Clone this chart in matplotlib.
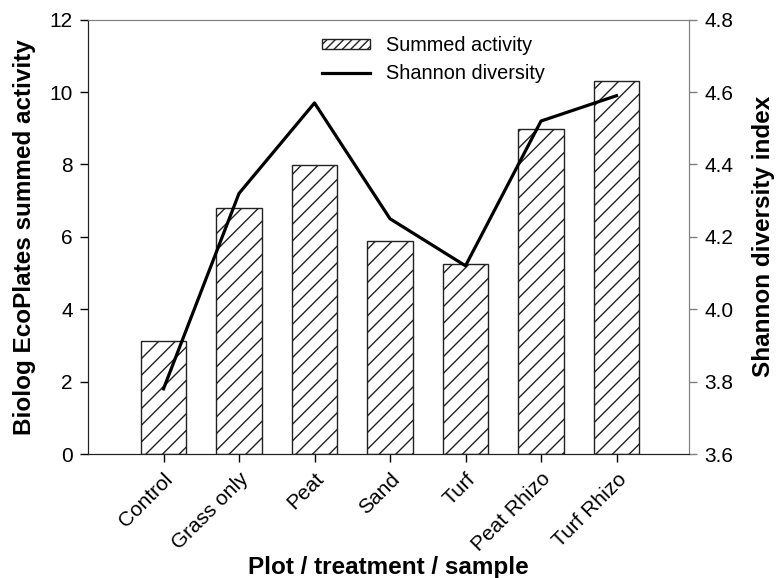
import matplotlib.pyplot as plt
from matplotlib.patches import Patch
from matplotlib.lines import Line2D

plt.rcParams['font.family'] = ['Liberation Sans', 'DejaVu Sans']
plt.rcParams['hatch.linewidth'] = 1.0

samples = ["Control", "Grass only", "Peat", "Sand", "Turf", "Peat Rhizo", "Turf Rhizo"]
summed_activity = [3.13, 6.80, 7.98, 5.89, 5.26, 8.99, 10.32]
shannon = [3.78, 4.32, 4.57, 4.25, 4.12, 4.52, 4.59]

fig = plt.figure(figsize=(7.77, 5.78), dpi=100)
ax = fig.add_axes([88/777, 1 - 454/578, 601/777, 434.3/578])

x = list(range(len(samples)))
ax.bar(x, summed_activity, width=0.6, color='white', edgecolor='#222222',
       linewidth=1.0, hatch='//')
ax.set_xlim(-1, 6.96)
ax.set_ylim(0, 12)
ax.set_yticks([0, 2, 4, 6, 8, 10, 12])
ax.set_xticks(x)
ax.set_xticklabels(samples, rotation=45, ha='right', rotation_mode='anchor')
ax.tick_params(direction='out', length=6, labelsize=15, width=1, pad=5)
ax.set_ylabel('Biolog EcoPlates summed activity', fontsize=17.5, fontweight='bold')
ax.set_xlabel('Plot / treatment / sample', fontsize=17.5, fontweight='bold')
ax.yaxis.set_label_coords(-0.087, 0.5)
ax.xaxis.set_label_coords(0.5, -0.235)

ax2 = ax.twinx()
ax2.plot(x, shannon, color='black', linewidth=2.3)
ax2.set_ylim(3.6, 4.8)
ax2.set_yticks([3.6, 3.8, 4.0, 4.2, 4.4, 4.6, 4.8])
ax2.set_yticklabels(['3.6', '3.8', '4.0', '4.2', '4.4', '4.6', '4.8'])
ax2.tick_params(direction='out', length=6, labelsize=15, width=1, color='#808080', pad=5)
ax2.set_ylabel('Shannon diversity index', fontsize=17.5, fontweight='bold')
ax2.yaxis.set_label_coords(1.105, 0.5)

for a in (ax, ax2):
    a.spines['top'].set_color('#808080')
    a.spines['right'].set_color('#808080')
    a.spines['left'].set_color('#222222')
    a.spines['bottom'].set_color('#222222')

handles = [Patch(facecolor='white', edgecolor='#222222', hatch='////', linewidth=1.0),
           Line2D([0], [0], color='black', linewidth=2.3)]
fig.legend(handles, ['Summed activity', 'Shannon diversity'],
           loc='upper left', bbox_to_anchor=(322/777, 1 - 36/578),
           frameon=False, fontsize=14.3, borderpad=0, borderaxespad=0,
           handlelength=2.4, handleheight=0.45, handletextpad=0.8, labelspacing=0.45)

fig.savefig('out.png', dpi=100)
